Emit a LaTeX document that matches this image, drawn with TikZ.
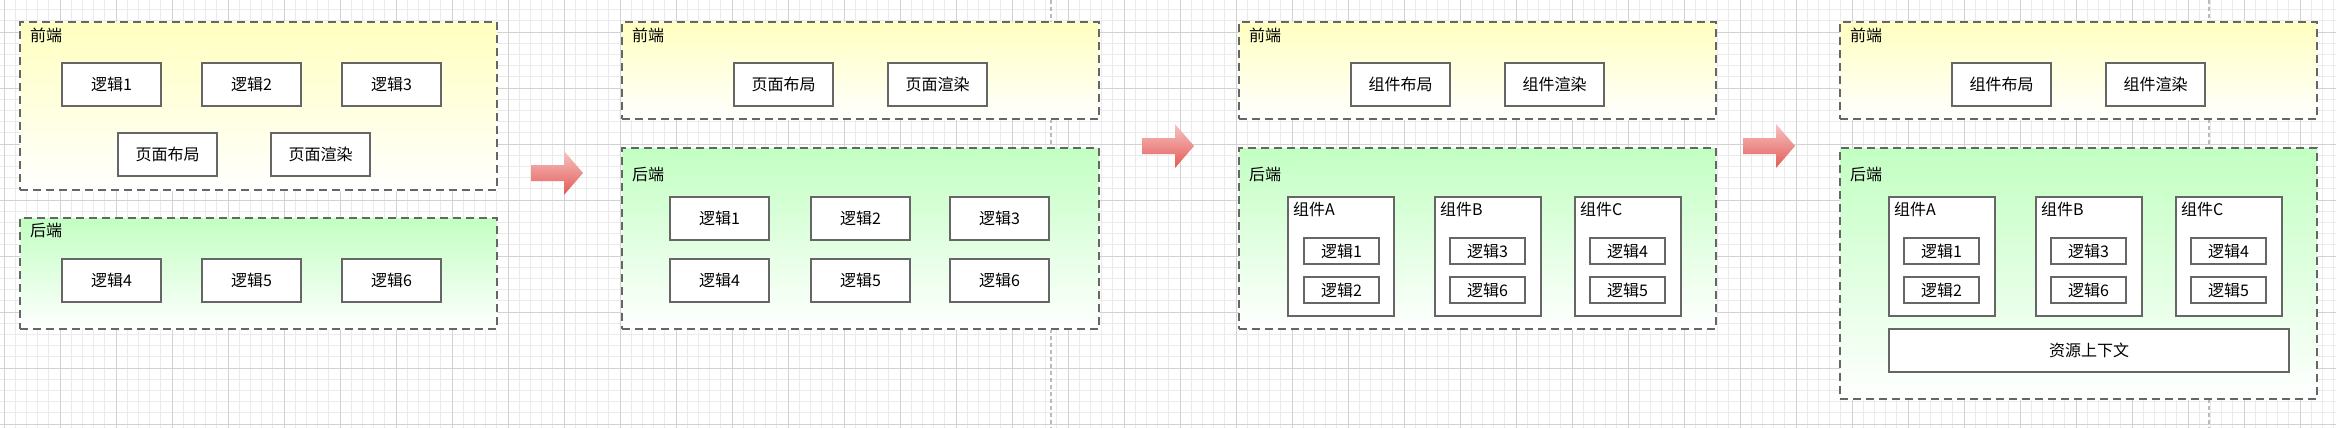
\documentclass[tikz,border=0pt]{standalone}
\usepackage{fontspec}
\setmainfont{Noto Sans CJK SC}
\definecolor{linegray}{HTML}{666666}
\definecolor{yellowtop}{HTML}{FFFFC0}
\definecolor{greentop}{HTML}{C2FFC2}
\definecolor{arrowtop}{HTML}{F6C4C2}
\definecolor{arrowbottom}{HTML}{E35A57}
\definecolor{gridminor}{HTML}{EBEBEB}
\definecolor{gridmajor}{HTML}{D2D2D2}
\definecolor{pagebreak}{HTML}{BBBBBB}
\newcommand{\txt}{\fontsize{16}{19}\selectfont}

\begin{document}
\begin{tikzpicture}[x=1pt, y=-1pt,
    zone/.style={draw=linegray, line width=2.4pt, dash pattern=on 8pt off 5pt, anchor=north west, inner sep=0pt, bottom color=white, minimum width=477pt},
    front/.style={zone, top color=yellowtop},
    back/.style={zone, top color=greentop},
    rect/.style={draw=linegray, line width=2pt, fill=white, anchor=north west, minimum width=99pt, minimum height=43pt, inner sep=0pt, font=\txt},
    small/.style={rect, minimum width=75pt, minimum height=26pt},
    comp/.style={rect, minimum width=106pt, minimum height=119pt},
    title/.style={anchor=west, inner sep=0pt, font=\txt},
    redarrow/.style={top color=arrowtop, bottom color=arrowbottom, draw=none}]
    \useasboundingbox[fill=white] (0,0) rectangle (2336,428);

    % Background grid
    \foreach \i in {0,...,208} \draw[gridminor, line width=0.8pt] ({4+11.2*\i},0) -- ({4+11.2*\i},428);
    \foreach \j in {0,...,37} \draw[gridminor, line width=0.8pt] (0,{9.6+11.2*\j}) -- (2336,{9.6+11.2*\j});
    \foreach \i in {0,...,41} \draw[gridmajor, line width=0.8pt] ({4+56*\i},0) -- ({4+56*\i},428);
    \foreach \j in {0,...,7} \draw[gridmajor, line width=0.8pt] (0,{32+56*\j}) -- (2336,{32+56*\j});
    \draw[pagebreak, line width=1.2pt, dash pattern=on 4pt off 3pt] (1051,0) -- (1051,428);
    \draw[pagebreak, line width=1.2pt, dash pattern=on 4pt off 3pt] (2209,0) -- (2209,428);

    % Panel 1
    \node[front, minimum height=168pt] (front-1) at (19,21) {};
    \node[back, minimum height=111pt] (back-1) at (19,217) {};
    \node[title] (front-1-title) at (30,35) {前端};
    \node[title] (back-1-title) at (30,230) {后端};
    \node[rect] (logic-1-1) at (61,62) {逻辑1};
    \node[rect] (logic-1-2) at (201,62) {逻辑2};
    \node[rect] (logic-1-3) at (341,62) {逻辑3};
    \node[rect] (layout-1) at (117,132) {页面布局};
    \node[rect] (render-1) at (270,132) {页面渲染};
    \node[rect] (logic-1-4) at (61,258) {逻辑4};
    \node[rect] (logic-1-5) at (201,258) {逻辑5};
    \node[rect] (logic-1-6) at (341,258) {逻辑6};

    \coordinate (arrow-1) at (531,173);
    \path[redarrow] (arrow-1) ++(0,-8) -- ++(33,0) -- ++(0,-14) -- ++(19,22) -- ++(-19,22) -- ++(0,-14) -- ++(-33,0) -- cycle;

    % Panel 2
    \node[front, minimum height=97pt] (front-2) at (621,21) {};
    \node[back, minimum height=181pt] (back-2) at (621,147) {};
    \node[title] (front-2-title) at (632,35) {前端};
    \node[title] (back-2-title) at (632,174) {后端};
    \node[rect] (layout-2) at (733,62) {页面布局};
    \node[rect] (render-2) at (887,62) {页面渲染};
    \node[rect] (logic-2-1) at (669,196) {逻辑1};
    \node[rect] (logic-2-2) at (810,196) {逻辑2};
    \node[rect] (logic-2-3) at (949,196) {逻辑3};
    \node[rect] (logic-2-4) at (669,258) {逻辑4};
    \node[rect] (logic-2-5) at (810,258) {逻辑5};
    \node[rect] (logic-2-6) at (949,258) {逻辑6};

    \coordinate (arrow-2) at (1142,146);
    \path[redarrow] (arrow-2) ++(0,-8) -- ++(33,0) -- ++(0,-14) -- ++(19,22) -- ++(-19,22) -- ++(0,-14) -- ++(-33,0) -- cycle;

    % Panel 3
    \node[front, minimum height=97pt] (front-3) at (1238,21) {};
    \node[back, minimum height=181pt] (back-3) at (1238,147) {};
    \node[title] (front-3-title) at (1249,35) {前端};
    \node[title] (back-3-title) at (1249,174) {后端};
    \node[rect] (layout-3) at (1350,62) {组件布局};
    \node[rect] (render-3) at (1504,62) {组件渲染};
    \node[comp] (comp-3-a) at (1287,196) {};
    \node[comp] (comp-3-b) at (1434,196) {};
    \node[comp] (comp-3-c) at (1574,196) {};
    \node[title] (comp-3-a-title) at (1293,209) {组件A};
    \node[title] (comp-3-b-title) at (1440,209) {组件B};
    \node[title] (comp-3-c-title) at (1580,209) {组件C};
    \node[small] (logic-3-1) at (1303,237) {逻辑1};
    \node[small] (logic-3-2) at (1303,276) {逻辑2};
    \node[small] (logic-3-3) at (1449,237) {逻辑3};
    \node[small] (logic-3-6) at (1449,276) {逻辑6};
    \node[small] (logic-3-4) at (1589,237) {逻辑4};
    \node[small] (logic-3-5) at (1589,276) {逻辑5};

    \coordinate (arrow-3) at (1743,146);
    \path[redarrow] (arrow-3) ++(0,-8) -- ++(33,0) -- ++(0,-14) -- ++(19,22) -- ++(-19,22) -- ++(0,-14) -- ++(-33,0) -- cycle;

    % Panel 4
    \node[front, minimum height=97pt] (front-4) at (1839,21) {};
    \node[back, minimum height=251pt] (back-4) at (1839,147) {};
    \node[title] (front-4-title) at (1850,35) {前端};
    \node[title] (back-4-title) at (1850,174) {后端};
    \node[rect] (layout-4) at (1951,62) {组件布局};
    \node[rect] (render-4) at (2105,62) {组件渲染};
    \node[comp] (comp-4-a) at (1888,196) {};
    \node[comp] (comp-4-b) at (2035,196) {};
    \node[comp] (comp-4-c) at (2175,196) {};
    \node[title] (comp-4-a-title) at (1894,209) {组件A};
    \node[title] (comp-4-b-title) at (2041,209) {组件B};
    \node[title] (comp-4-c-title) at (2181,209) {组件C};
    \node[small] (logic-4-1) at (1903,237) {逻辑1};
    \node[small] (logic-4-2) at (1903,276) {逻辑2};
    \node[small] (logic-4-3) at (2050,237) {逻辑3};
    \node[small] (logic-4-6) at (2050,276) {逻辑6};
    \node[small] (logic-4-4) at (2190,237) {逻辑4};
    \node[small] (logic-4-5) at (2190,276) {逻辑5};
    \node[rect, minimum width=400pt] (context-4) at (1888,328) {资源上下文};

\end{tikzpicture}
\end{document}
